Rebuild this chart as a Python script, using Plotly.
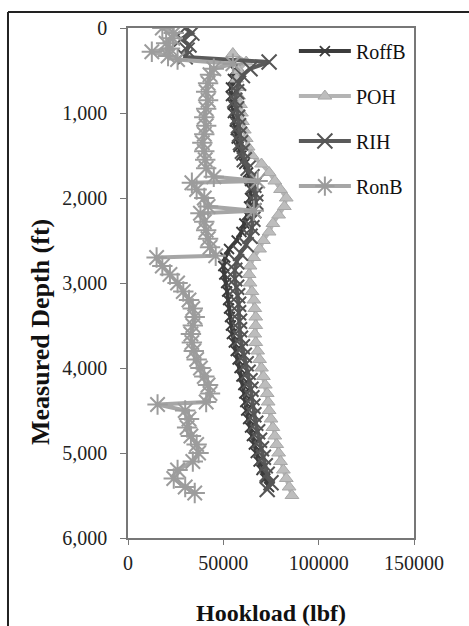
import plotly.graph_objects as go

# ---------------- data ----------------
roffb_depth = [450, 500, 600, 700, 800, 900, 1000, 1100, 1200, 1300, 1400, 1500, 1600, 1700, 1800, 1900,
               2000, 2100, 2200, 2300, 2400, 2500, 2600, 2700, 2800, 2900, 3000, 3100, 3200, 3300, 3400,
               3500, 3600, 3700, 3800, 3900, 4000, 4100, 4200, 4300, 4400, 4500, 4600, 4700, 4800, 4900,
               5000, 5100, 5200, 5300, 5400]
roffb_load = [58000, 56000, 55000, 54000, 54000, 55000, 55000, 56000, 56500, 57000, 58000, 59500, 61000,
              63000, 64000, 64500, 64000, 63500, 62500, 61000, 59500, 57000, 53000, 51000, 50000, 50500,
              51500, 52000, 52500, 53000, 53500, 54000, 54500, 55500, 56500, 57500, 58500, 59500, 60500,
              61000, 61500, 62000, 63000, 64000, 65000, 66000, 67000, 68500, 70000, 72000, 74000]

poh_depth = [300, 400, 500, 600, 700, 800, 900, 1000, 1100, 1200, 1300, 1400, 1500, 1600, 1700, 1800,
             1900, 2000, 2100, 2200, 2300, 2400, 2500, 2600, 2700, 2800, 2900, 3000, 3100, 3200, 3300,
             3400, 3500, 3600, 3700, 3800, 3900, 4000, 4100, 4200, 4300, 4400, 4500, 4600, 4700, 4800,
             4900, 5000, 5100, 5200, 5300, 5400, 5500]
poh_load = [55000, 62000, 58000, 57000, 57500, 58000, 59000, 59500, 60000, 61000, 62000, 63000, 65000,
            70000, 74000, 77000, 80000, 83000, 82000, 79000, 76000, 74000, 71000, 69000, 66000, 64000,
            63500, 64000, 65000, 66000, 66500, 67000, 67000, 66500, 67000, 68000, 69000, 70000, 71000,
            72000, 73000, 73500, 74000, 75000, 76000, 77000, 78000, 79000, 80000, 81500, 83000, 84500,
            86000]

rih_depth = [0, 60, 130, 200, 260, 340, 400, 480, 560, 650, 750, 850, 950, 1050, 1150, 1250, 1350, 1450,
             1550, 1650, 1750, 1850, 1950, 2050, 2150, 2250, 2350, 2450, 2550, 2650, 2750, 2850, 2950,
             3050, 3150, 3250, 3350, 3450, 3550, 3650, 3750, 3850, 3950, 4050, 4150, 4250, 4350, 4450,
             4550, 4650, 4750, 4850, 4950, 5050, 5150, 5250, 5350, 5430]
rih_load = [30000, 33500, 28000, 32000, 31000, 30000, 74000, 64000, 60000, 58000, 57000, 56000, 57000,
            57500, 58000, 58500, 59000, 60000, 61000, 63000, 65000, 66000, 67000, 67000, 66000, 65500,
            65000, 64000, 62000, 59000, 57000, 56000, 56000, 57000, 57500, 58000, 58000, 58500, 58500,
            59000, 60000, 61000, 62000, 63000, 64000, 64500, 65000, 65500, 66000, 67000, 68000, 69000,
            70000, 71000, 72000, 73000, 75000, 73000]

ronb_depth = [0, 60, 120, 180, 240, 280, 330, 370, 420, 480, 550, 650, 750, 850, 950, 1050, 1150, 1250,
              1350, 1450, 1550, 1650, 1750, 1800, 1820, 1900, 2000, 2100, 2150, 2180, 2280, 2380, 2480,
              2580, 2680, 2700, 2800, 2900, 3000, 3100, 3200, 3300, 3400, 3500, 3600, 3700, 3800, 3900,
              4000, 4100, 4200, 4300, 4400, 4430, 4500, 4600, 4700, 4800, 4900, 5000, 5100, 5200, 5300,
              5400, 5470]
ronb_load = [18000, 24000, 23500, 20000, 22000, 12500, 21000, 26000, 55000, 45000, 43000, 42000, 41000,
             42000, 41000, 40000, 41000, 40000, 39000, 40000, 40500, 41000, 45000, 68000, 33500, 36000,
             40000, 42000, 66000, 38000, 40000, 41000, 42000, 43000, 46000, 15000, 18000, 22000, 26000,
             29000, 32000, 34000, 35000, 34000, 33000, 33500, 34500, 36000, 38000, 40000, 42000, 43000,
             41000, 15500, 30000, 32000, 31000, 33000, 36000, 37000, 34000, 26000, 24000, 30000, 35000]

series_names = ["RoffB", "POH", "RIH", "RonB"]
x_ticks = [0, 50000, 100000, 150000]
y_ticks = [0, 1000, 2000, 3000, 4000, 5000, 6000]
x_title = "Hookload (lbf)"
y_title = "Measured Depth (ft)"

FONT = "Liberation Serif"

fig = go.Figure()

fig.add_trace(go.Scatter(
    x=roffb_load, y=roffb_depth, name=series_names[0], mode="lines+markers", legendgroup="a",
    line=dict(color="#3c3c3c", width=4),
    marker=dict(symbol="x-thin-open", size=10, color="#3c3c3c", line=dict(width=1.8, color="#3c3c3c"))))
fig.add_trace(go.Scatter(
    x=poh_load, y=poh_depth, name=series_names[1], mode="lines+markers", legendgroup="b",
    line=dict(color="#b4b4b4", width=4),
    marker=dict(symbol="triangle-up", size=12, color="#bdbdbd", line=dict(width=1, color="#a8a8a8"))))
fig.add_trace(go.Scatter(
    x=rih_load, y=rih_depth, name=series_names[2], mode="lines+markers", legendgroup="c",
    line=dict(color="#5a5a5a", width=4),
    marker=dict(symbol="x-thin-open", size=15, color="#555555", line=dict(width=2, color="#555555"))))
fig.add_trace(go.Scatter(
    x=ronb_load, y=ronb_depth, name=series_names[3], mode="lines+markers", legendgroup="d",
    line=dict(color="#a6a6a6", width=4),
    marker=dict(symbol="asterisk-open", size=17, color="#9c9c9c", line=dict(width=2, color="#9c9c9c"))))

# outer frame (top and left border of the picture)
fig.add_shape(type="line", xref="paper", yref="paper", x0=-0.4196, x1=1.6, y0=1.0314, y1=1.0314,
              line=dict(color="#222", width=2))
fig.add_shape(type="line", xref="paper", yref="paper", x0=-0.4196, x1=-0.4196, y0=1.0314, y1=-0.3,
              line=dict(color="#222", width=2))

# y-axis title (placed as in the reference, a little below the plot centre)
fig.add_annotation(text="<b>" + y_title + "</b>", xref="paper", yref="paper", x=-0.304, y=0.404,
                   textangle=-90, showarrow=False, xanchor="center", yanchor="middle",
                   font=dict(family=FONT, size=26, color="#111"))

fig.update_layout(
    width=469, height=626,
    margin=dict(l=128, r=55, t=28, b=88),
    paper_bgcolor="white", plot_bgcolor="white",
    font=dict(family=FONT, color="#111", size=20),
    showlegend=True,
    legend=dict(x=0.58, y=0.993, xanchor="left", yanchor="top", bgcolor="rgba(0,0,0,0)",
                font=dict(family=FONT, size=20, color="#111"), tracegroupgap=16,
                traceorder="grouped", itemwidth=52),
    xaxis=dict(range=[0, 150000], tickvals=x_ticks, tickformat="d", showgrid=False, zeroline=False,
               showline=True, linecolor="#777", linewidth=1.5, mirror=True, automargin=False,
               ticks="outside", ticklen=5, tickcolor="#777",
               tickfont=dict(family=FONT, size=20, color="#222"), ticklabelstandoff=1,
               title=dict(text="<b>" + x_title + "</b>", font=dict(family=FONT, size=24, color="#111"),
                          standoff=31)),
    yaxis=dict(range=[6000, 0], tickvals=y_ticks, tickformat=",", showgrid=False, zeroline=False,
               showline=True, linecolor="#777", linewidth=1.5, mirror=True, automargin=False,
               ticks="outside", ticklen=6, tickcolor="#777",
               tickfont=dict(family=FONT, size=20, color="#222"), ticklabelstandoff=9),
)

fig.write_html("out.html")
